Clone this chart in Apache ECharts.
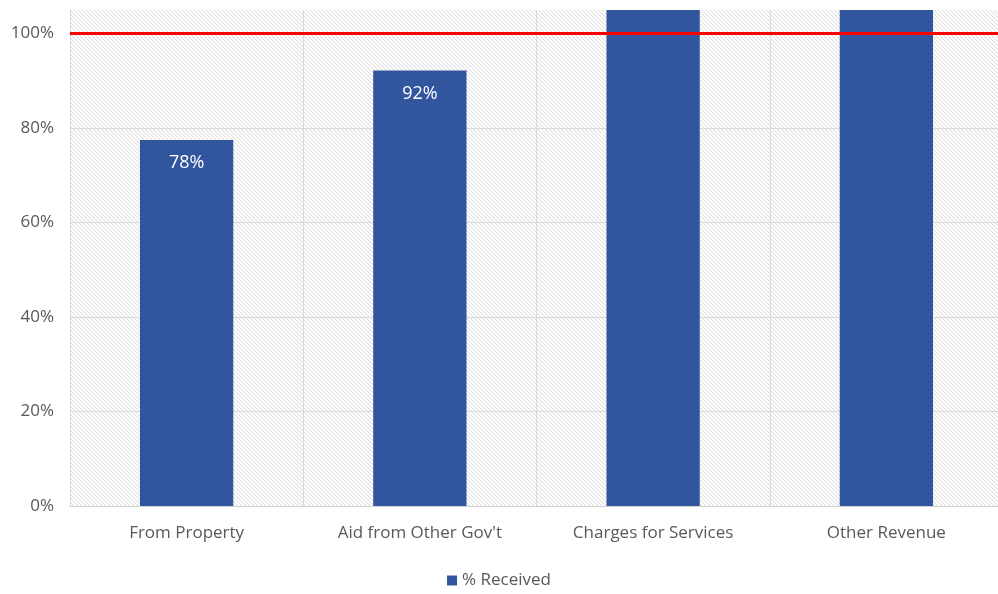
<!DOCTYPE html>
<html>
<head>
<meta charset="utf-8">
<script src="https://cdn.jsdelivr.net/npm/echarts@6/dist/echarts.min.js"></script>
<style>
  html, body { margin: 0; padding: 0; background: #ffffff; }
  #chart { width: 998px; height: 594px; }
</style>
</head>
<body>
<div id="chart"></div>
<script>
// Revenue categories and share of budget received (percent)
var categories = ['From Property', "Aid from Other Gov't", 'Charges for Services', 'Other Revenue'];
var received = [77.5, 92.2, 118, 116];
var targetLevel = 100;
var yTicks = [0, 20, 40, 60, 80, 100];

// Light diagonal hatch used as the plot background
function hatchPattern() {
  var size = 8;
  var c = document.createElement('canvas');
  c.width = size; c.height = size;
  var ctx = c.getContext('2d');
  var img = ctx.createImageData(size, size);
  for (var y = 0; y < size; y++) {
    for (var x = 0; x < size; x++) {
      var m = ((x - y) % 4 + 4) % 4;
      var v = m === 0 ? 224 : (m === 1 ? 243 : 255);
      var i = (y * size + x) * 4;
      img.data[i] = v; img.data[i + 1] = v; img.data[i + 2] = v; img.data[i + 3] = 255;
    }
  }
  ctx.putImageData(img, 0, 0);
  return { image: c, repeat: 'repeat' };
}

var font = '"Open Sans", "Noto Sans", sans-serif';
var chart = echarts.init(document.getElementById('chart'));

chart.setOption({
  animation: false,
  textStyle: { fontFamily: font },
  grid: {
    show: true,
    outerBoundsMode: 'none',
    left: 70, right: -5, top: 10, bottom: 88,
    backgroundColor: hatchPattern(),
    borderWidth: 0
  },
  legend: {
    bottom: 0,
    left: 'center',
    itemWidth: 10, itemHeight: 10, itemGap: 4,
    icon: 'rect',
    textStyle: { color: '#595959', fontSize: 17, fontFamily: font },
    data: ['% Received']
  },
  xAxis: {
    type: 'category',
    data: categories,
    axisLine: { show: true, lineStyle: { color: '#d0d0d0', width: 1 } },
    axisTick: { show: false },
    splitLine: { show: true, lineStyle: { color: '#d9d9d9', width: 1 } },
    axisLabel: { color: '#595959', fontSize: 17, margin: 19, fontFamily: font }
  },
  yAxis: {
    type: 'value',
    min: 0, max: 105, interval: 20,
    axisLine: { show: false },
    axisTick: { show: false },
    splitLine: { showMaxLine: false, lineStyle: { color: '#d9d9d9', width: 1 } },
    axisLabel: {
      color: '#595959', fontSize: 17, margin: 16, fontFamily: font,
      formatter: function (v) { return yTicks.indexOf(v) >= 0 ? v + '%' : ''; }
    }
  },
  series: [{
    name: '% Received',
    type: 'bar',
    barWidth: '40%',
    clip: true,
    itemStyle: { color: '#32569e' },
    label: {
      show: true,
      position: 'insideTop',
      distance: 14,
      color: '#ffffff',
      fontSize: 18,
      fontFamily: font,
      formatter: function (p) { return Math.round(p.value) + '%'; }
    },
    data: received.map(function (v) {
      return v > 105 ? { value: v, label: { show: false } } : v;
    }),
    markLine: {
      silent: true,
      symbol: 'none',
      label: { show: false },
      lineStyle: { color: '#ff0000', width: 3, type: 'solid' },
      data: [{ yAxis: targetLevel }]
    }
  }]
});
</script>
</body>
</html>
